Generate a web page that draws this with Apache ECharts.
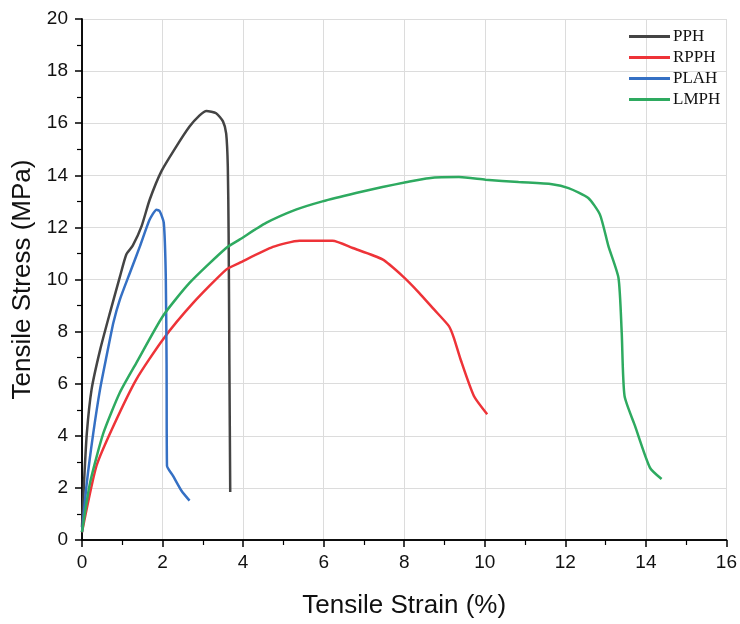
<!DOCTYPE html>
<html>
<head>
<meta charset="utf-8">
<script src="https://cdn.jsdelivr.net/npm/echarts@6/dist/echarts.min.js"></script>
<style>
  html, body { margin: 0; padding: 0; background: #fff; }
  #chart { width: 740px; height: 624px; }
</style>
</head>
<body>
<div id="chart"></div>
<script>
// strain (%) and stress (MPa)
var seriesNames = ['PPH', 'RPPH', 'PLAH', 'LMPH'];

var pphStrain = [0, 0.05, 0.12, 0.24, 0.45, 0.69, 0.94, 1.1, 1.26, 1.48, 1.68, 1.97, 2.34, 2.67, 2.92, 3.09, 3.33, 3.5, 3.58, 3.62, 3.64, 3.66, 3.68];
var pphStress = [0.5, 2.2, 4.1, 5.8, 7.3, 8.7, 10.1, 10.96, 11.3, 12.05, 13.06, 14.15, 15.1, 15.87, 16.3, 16.47, 16.38, 16.07, 15.6, 14.34, 11.8, 6.7, 1.84];

var rpphStrain = [0, 0.36, 0.78, 1.35, 2.01, 2.76, 3.58, 3.91, 4.74, 5.4, 6.22, 6.72, 7.46, 7.96, 8.37, 8.74, 9.11, 9.23, 9.4, 9.73, 10.06];
var rpphStress = [0.3, 2.85, 4.38, 6.17, 7.7, 9.1, 10.38, 10.64, 11.25, 11.49, 11.49, 11.21, 10.77, 10.13, 9.49, 8.85, 8.21, 7.77, 6.93, 5.53, 4.83];

var plahStrain = [0, 0.12, 0.28, 0.45, 0.61, 0.78, 0.94, 1.19, 1.44, 1.68, 1.85, 1.93, 2.03, 2.08, 2.1, 2.11, 2.26, 2.47, 2.67];
var plahStress = [0.3, 2.2, 4.1, 5.8, 7.06, 8.35, 9.23, 10.26, 11.28, 12.3, 12.68, 12.62, 12.18, 10.13, 6.68, 2.85, 2.46, 1.89, 1.51];

var lmphStrain = [0, 0.2, 0.53, 0.94, 1.35, 2.01, 2.67, 3.58, 3.91, 4.57, 5.31, 5.97, 6.8, 7.46, 8.04, 8.61, 9.36, 10.02, 10.84, 11.67, 12.08, 12.57, 12.86, 13.07, 13.32, 13.4, 13.47, 13.73, 14.1, 14.39];
var lmphStress = [0.3, 2.2, 4.1, 5.66, 6.8, 8.6, 9.87, 11.21, 11.53, 12.17, 12.68, 13.0, 13.32, 13.55, 13.73, 13.89, 13.93, 13.83, 13.74, 13.66, 13.51, 13.13, 12.49, 11.28, 10.06, 7.96, 5.53, 4.38, 2.78, 2.34];

var lineColors = ['#444444', '#ee3338', '#3570c4', '#2eaa60'];

function pairs(xs, ys) {
  var out = [];
  for (var i = 0; i < xs.length; i++) {
    out.push([xs[i], ys[i]]);
  }
  return out;
}

var curves = [
  pairs(pphStrain, pphStress),
  pairs(rpphStrain, rpphStress),
  pairs(plahStrain, plahStress),
  pairs(lmphStrain, lmphStress)
];

var chart = echarts.init(document.getElementById('chart'));

var axisCommon = {
  type: 'value',
  min: 0,
  interval: 2,
  nameLocation: 'middle',
  nameTextStyle: {
    fontFamily: 'Liberation Sans',
    fontSize: 26,
    color: '#111'
  },
  axisLine: {
    show: true,
    lineStyle: { color: '#000', width: 1.5 }
  },
  axisTick: {
    show: true,
    length: 7,
    lineStyle: { color: '#000', width: 1.5 }
  },
  minorTick: {
    show: true,
    splitNumber: 2,
    length: 5,
    lineStyle: { color: '#000', width: 1.2 }
  },
  axisLabel: {
    fontFamily: 'Liberation Sans',
    fontSize: 19,
    color: '#111'
  },
  splitLine: {
    show: true,
    lineStyle: { color: '#dcdcdc', width: 1 }
  }
};

// plain box lines on the top and right edges
var boxAxis = {
  type: 'value',
  min: 0,
  interval: 2,
  axisLine: { show: true, lineStyle: { color: '#000', width: 1.5 } },
  axisTick: { show: false },
  axisLabel: { show: false },
  splitLine: { show: false }
};

var option = {
  animation: false,
  grid: {
    left: 82,
    right: 12,
    top: 19,
    bottom: 83
  },
  legend: {
    orient: 'vertical',
    left: 624,
    top: 23,
    itemWidth: 41,
    itemHeight: 3,
    itemGap: 4,
    icon: 'rect',
    textStyle: {
      fontFamily: 'Liberation Serif',
      fontSize: 17,
      color: '#111',
      padding: [0, 0, 0, -2]
    },
    data: seriesNames
  },
  xAxis: [
    Object.assign({}, axisCommon, {
      max: 16,
      name: 'Tensile Strain (%)',
      nameGap: 53,
      axisLabel: Object.assign({}, axisCommon.axisLabel, { margin: 13 })
    }),
    Object.assign({}, boxAxis, { max: 16, position: 'top' })
  ],
  yAxis: [
    Object.assign({}, axisCommon, {
      max: 20,
      name: 'Tensile Stress (MPa)',
      nameGap: 45,
      axisLabel: Object.assign({}, axisCommon.axisLabel, { margin: 14 })
    }),
    Object.assign({}, boxAxis, { max: 20, position: 'right' })
  ],
  series: seriesNames.map(function (name, i) {
    return {
      name: name,
      type: 'line',
      data: curves[i],
      showSymbol: false,
      smooth: 0.2,
      color: lineColors[i],
      lineStyle: { color: lineColors[i], width: 2.5 }
    };
  })
};

chart.setOption(option);
</script>
</body>
</html>
